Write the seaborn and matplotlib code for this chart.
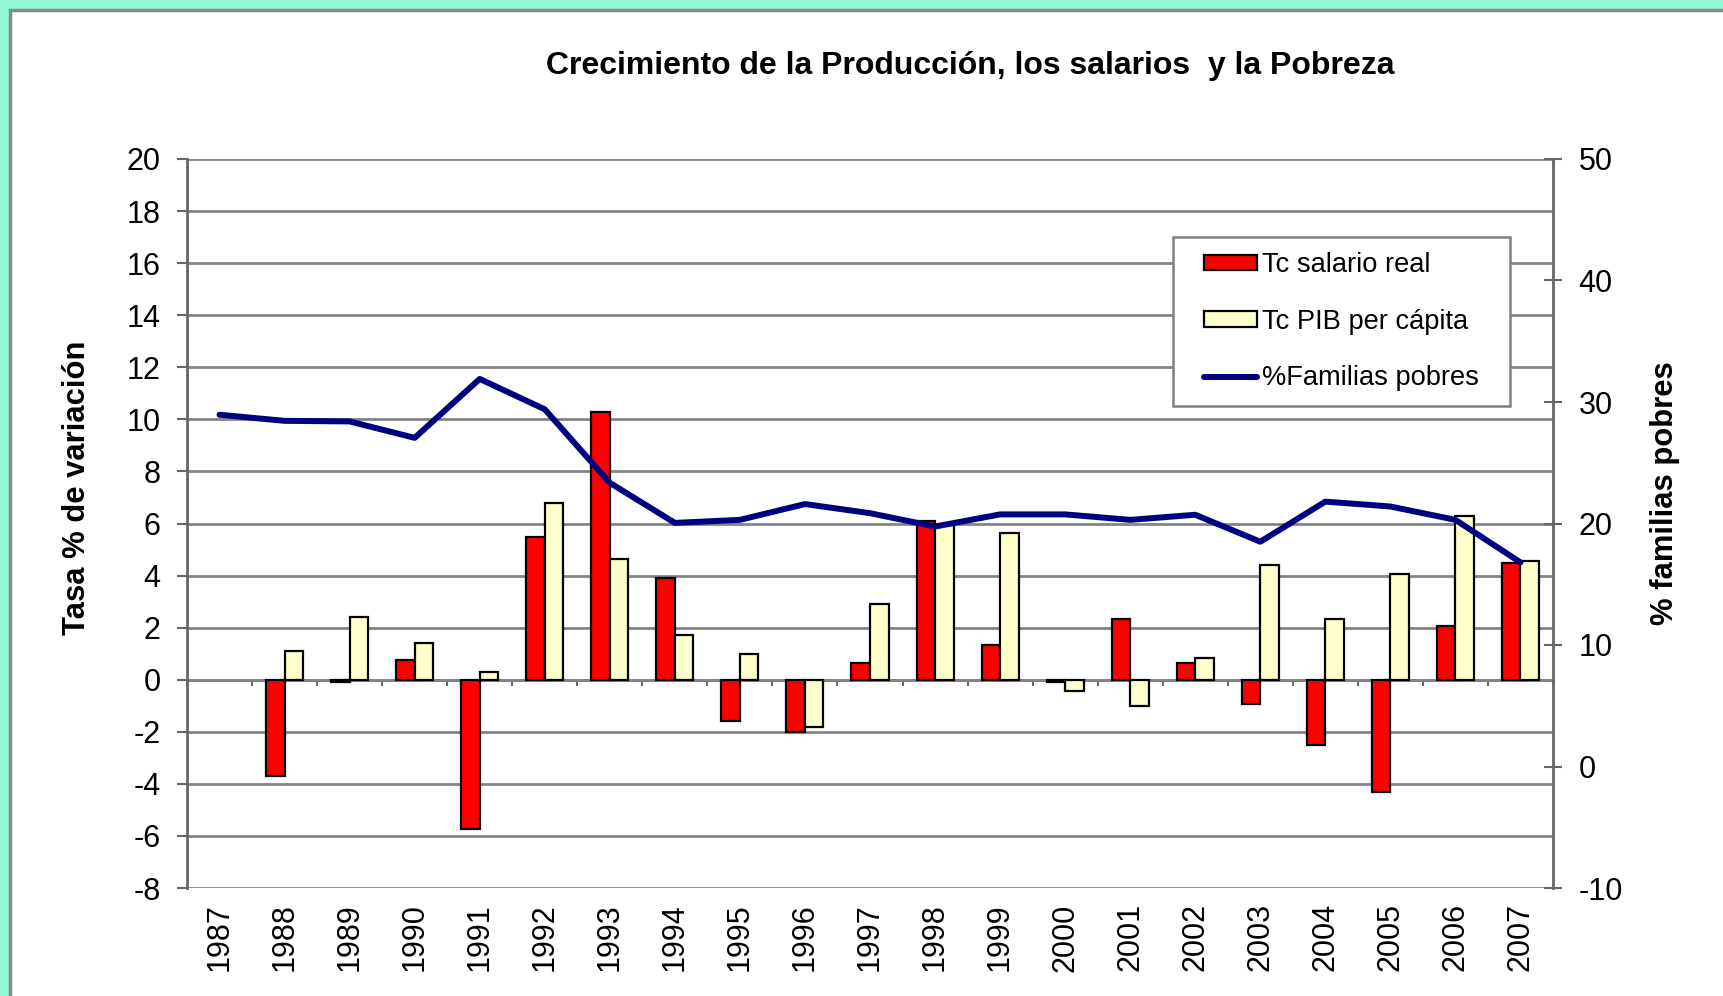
import numpy as np
import pandas as pd
import matplotlib
matplotlib.use("Agg")
import matplotlib.pyplot as plt
from matplotlib.patches import Rectangle, Patch
from matplotlib.lines import Line2D
from matplotlib.path import Path
import seaborn as sns

years = [str(y) for y in range(1987, 2008)]
salario_real = [np.nan, -3.7, -0.1, 0.75, -5.75, 5.5, 10.3, 3.9, -1.6, -2.0, 0.65,
                6.1, 1.35, -0.08, 2.35, 0.65, -0.95, -2.5, -4.3, 2.05, 4.5]
pib_per_capita = [np.nan, 1.1, 2.4, 1.4, 0.3, 6.8, 4.65, 1.7, 1.0, -1.8, 2.9,
                  5.95, 5.65, -0.45, -1.0, 0.85, 4.4, 2.35, 4.05, 6.3, 4.55]
familias_pobres = [28.95, 28.45, 28.4, 27.05, 31.9, 29.4, 23.35, 20.05, 20.3, 21.6, 20.85,
                   19.75, 20.75, 20.75, 20.3, 20.72, 18.5, 21.8, 21.4, 20.3, 16.8]

series_names = ["Tc salario real", "Tc PIB per cápita"]
line_name = "%Familias pobres"
bar_colors = ["#FF0000", "#FFFFCC"]
line_color = "#000080"
grid_color = "#848484"
axis_color = "#666666"

df = pd.DataFrame({
    "anio": years * 2,
    "valor": salario_real + pib_per_capita,
    "serie": [series_names[0]] * len(years) + [series_names[1]] * len(years),
}).dropna()

sns.set_style("white")
plt.rcParams["font.family"] = ["Liberation Sans", "DejaVu Sans"]
plt.rcParams["text.color"] = "black"
plt.rcParams["axes.unicode_minus"] = False

fig = plt.figure(figsize=(17.24, 9.96), dpi=100)
fig.patch.set_facecolor("#92F7D6")
# white slide panel with a gray border
fig.patches.append(Rectangle((10 / 1724, -0.05), 1.1, 1 - 10 / 996 + 0.05,
                             transform=fig.transFigure, facecolor="white",
                             edgecolor="#8A8A8A", linewidth=2.5, zorder=-5))

ax = fig.add_axes([187 / 1724, 1 - 888 / 996, 1366 / 1724, 729 / 996])
ax.set_facecolor("none")

sns.barplot(data=df, x="anio", y="valor", hue="serie", order=years,
            hue_order=series_names, palette=bar_colors, saturation=1,
            width=0.57, edgecolor="black", linewidth=1.6, errorbar=None,
            legend=False, ax=ax)

ax.set_xlim(-0.5, len(years) - 0.5)
ax.set_ylim(-8, 20)
ax.set_yticks(range(-8, 21, 2))
ax.yaxis.grid(True, color=grid_color, linewidth=2)
ax.set_axisbelow(True)
ax.set_xlabel("")
ax.set_ylabel("")
ax.tick_params(axis="y", direction="out", length=7, width=1.5, color=axis_color,
               pad=12, labelsize=22, labelcolor="black", left=True)
ax.tick_params(axis="x", length=0, pad=11, labelsize=22, labelrotation=90,
               labelcolor="black")
for s in ["top", "right", "bottom"]:
    ax.spines[s].set_visible(False)
ax.spines["left"].set_color(axis_color)
ax.spines["left"].set_linewidth(2)

# category axis crossing at zero with tick marks between categories
zero_axis = ax.secondary_xaxis(8 / 28)
zero_axis.set_xticks(np.arange(-0.5, len(years), 1))
zero_axis.tick_params(axis="x", direction="out", length=4, width=1.5,
                      color=axis_color, labelbottom=False, labeltop=False)
zero_axis.spines["bottom"].set_color(axis_color)
zero_axis.spines["bottom"].set_linewidth(2)

ax2 = ax.twinx()
sns.lineplot(x=np.arange(len(years)), y=familias_pobres, color=line_color,
             linewidth=4.3, ax=ax2)
ax2.set_ylim(-10, 50)
ax2.set_yticks(range(-10, 51, 10))
ax2.tick_params(axis="y", direction="inout", length=13, width=1.5, color=axis_color,
                pad=12, labelsize=22, labelcolor="black", right=True)
for s in ["top", "left", "bottom"]:
    ax2.spines[s].set_visible(False)
ax2.spines["right"].set_color(axis_color)
ax2.spines["right"].set_linewidth(2)

fig.text(970 / 1724, 1 - 66 / 996,
         "Crecimiento de la Producción, los salarios  y la Pobreza",
         ha="center", va="center", fontsize=23, fontweight="bold")
fig.text(77 / 1724, 1 - 488 / 996, "Tasa % de variación", rotation=90,
         ha="center", va="center", fontsize=22.3, fontweight="bold")
fig.text(1665 / 1724, 1 - 493 / 996, "% familias pobres", rotation=90,
         ha="center", va="center", fontsize=22.3, fontweight="bold")

handles = [
    Patch(facecolor=bar_colors[0], edgecolor="black", linewidth=1.6),
    Patch(facecolor=bar_colors[1], edgecolor="black", linewidth=1.6),
    Line2D([], [], color=line_color, linewidth=4.3),
]
pad_x = 16


def wide_frame(x0, y0, width, height, mutation_size):
    # Excel-like legend box: more room left and right than above and below
    return Path([(x0 - pad_x, y0), (x0 + width + pad_x, y0),
                 (x0 + width + pad_x, y0 + height), (x0 - pad_x, y0 + height),
                 (x0 - pad_x, y0)], closed=True)


leg = ax2.legend(handles, series_names + [line_name], loc="upper left",
                 bbox_to_anchor=((1173 + pad_x) / 1724, 1 - 237 / 996),
                 bbox_transform=fig.transFigure, fontsize=19.6, frameon=True,
                 fancybox=False, framealpha=1, edgecolor="#808080",
                 handlelength=1.95, handleheight=0.5, handletextpad=0.18,
                 labelspacing=1.12, borderpad=0.56, borderaxespad=0)
leg.get_frame().set_linewidth(1.8)
leg.get_frame().set_boxstyle(wide_frame)

fig.savefig("out.png", dpi=100, facecolor=fig.get_facecolor())
